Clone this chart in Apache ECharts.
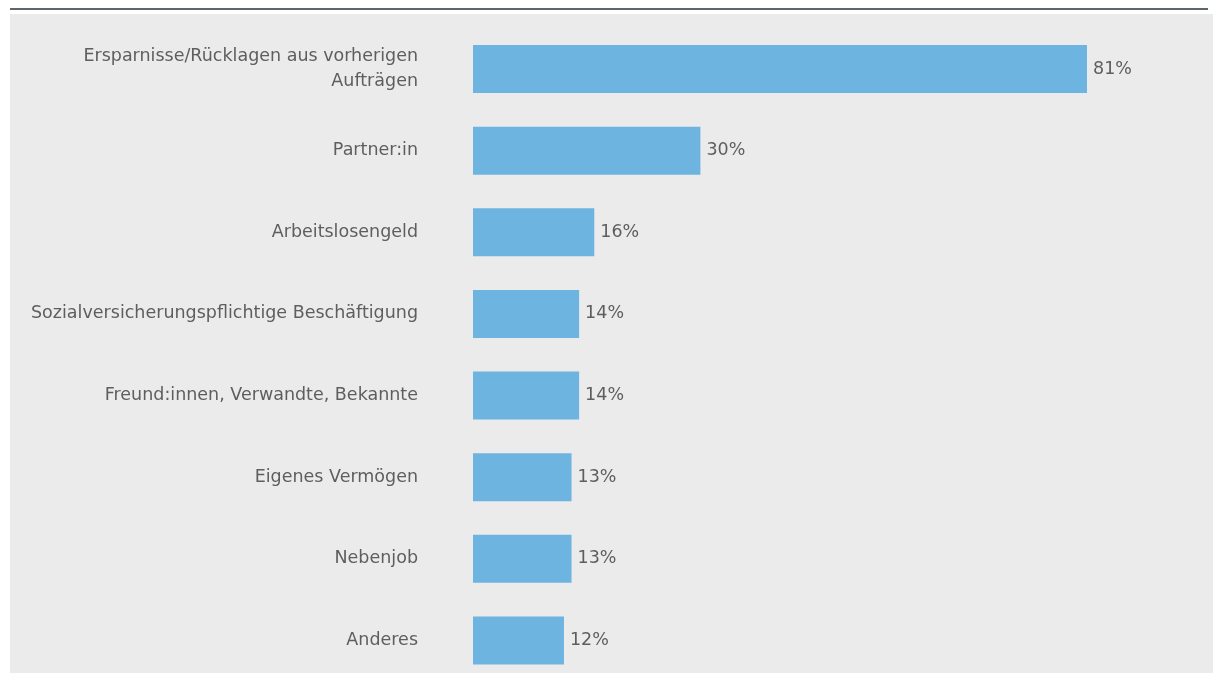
<!DOCTYPE html>
<html>
<head>
<meta charset="utf-8">
<script src="https://cdn.jsdelivr.net/npm/echarts@6/dist/echarts.min.js"></script>
<style>
html,body{margin:0;padding:0;background:#ffffff;}
#chart{width:1214px;height:673px;}
</style>
</head>
<body>
<div id="chart"></div>
<script>
const categories = [
  "Ersparnisse/Rücklagen aus vorherigen\nAufträgen",
  "Partner:in",
  "Arbeitslosengeld",
  "Sozialversicherungspflichtige Beschäftigung",
  "Freund:innen, Verwandte, Bekannte",
  "Eigenes Vermögen",
  "Nebenjob",
  "Anderes"
];
const values = [81, 30, 16, 14, 14, 13, 13, 12];

const FONT = '"DejaVu Sans", sans-serif';
const chart = echarts.init(document.getElementById('chart'), null, {renderer: 'canvas'});
chart.setOption({
  backgroundColor: '#ffffff',
  animation: false,
  graphic: [
    {type: 'rect', z: -10, shape: {x: 10, y: 14, width: 1203, height: 659}, style: {fill: '#ebebeb'}},
    {type: 'rect', z: -9, shape: {x: 10, y: 8, width: 1198, height: 2}, style: {fill: '#5c666d'}}
  ],
  grid: {left: 473, top: 69, width: 614, height: 571.5, containLabel: false},
  xAxis: {
    type: 'value', min: 0, max: 81, show: false
  },
  yAxis: {
    type: 'category', data: categories, inverse: true, boundaryGap: false,
    axisLine: {show: false}, axisTick: {show: false}, splitLine: {show: false},
    axisLabel: {
      margin: 55, fontSize: 17.5, color: '#5e5e5e', lineHeight: 25,
      fontFamily: FONT, align: 'right'
    }
  },
  series: [{
    type: 'bar', data: values, barWidth: 48,
    itemStyle: {color: '#6db5e0'},
    label: {
      show: true, position: 'right', distance: 6, formatter: '{c}%',
      fontSize: 17.5, color: '#5e5e5e', fontFamily: FONT
    }
  }]
});
</script>
</body>
</html>
